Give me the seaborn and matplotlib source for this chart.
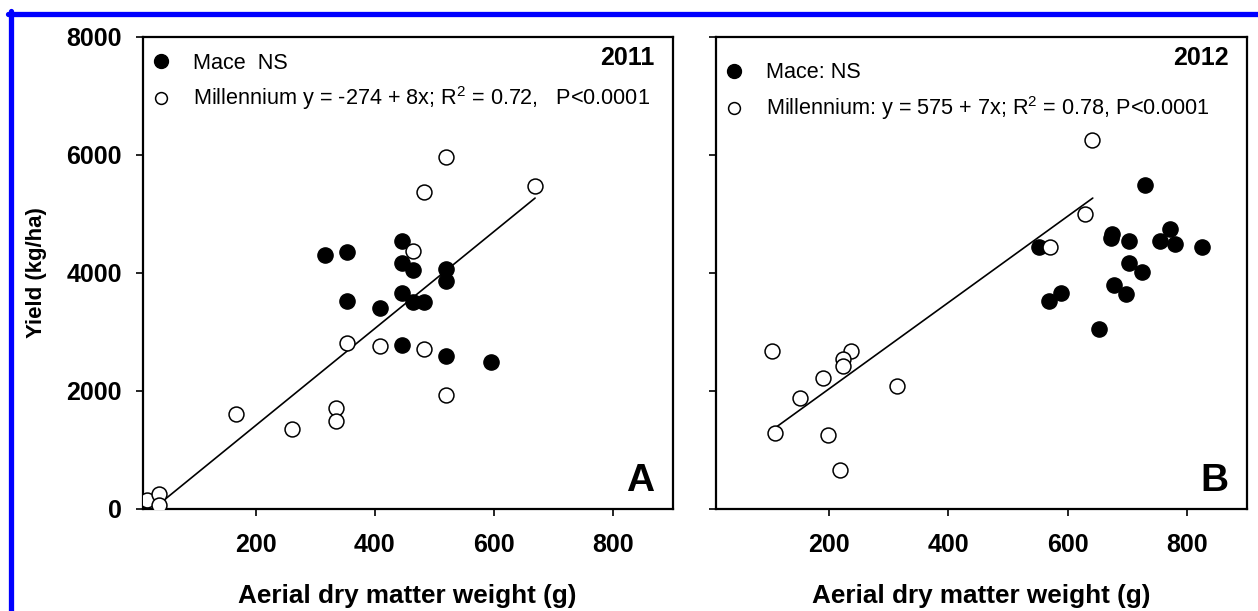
import matplotlib
matplotlib.use("Agg")
import matplotlib.pyplot as plt
import matplotlib.lines as mlines
import seaborn as sns
import pandas as pd

# ------------------------------------------------------------------
# data
# ------------------------------------------------------------------
# 2011
mace_2011_x = [316, 353, 446, 446, 464, 520, 520, 446, 353, 409, 464, 483, 446, 520, 595]
mace_2011_y = [4300, 4360, 4540, 4170, 4050, 4060, 3870, 3660, 3520, 3400, 3510, 3510, 2780, 2590, 2500]
mill_2011_x = [520, 483, 669, 464, 353, 409, 483, 520, 167, 261, 334, 334, 18, 37, 37]
mill_2011_y = [5960, 5380, 5470, 4370, 2820, 2770, 2720, 1940, 1610, 1350, 1720, 1500, 160, 260, 75]
fit_2011_x = [18, 669]
fit_2011_y = [-80, 5270]

# 2012
mace_2012_x = [730, 552, 675, 672, 703, 755, 772, 779, 825, 703, 725, 678, 697, 589, 569, 652]
mace_2012_y = [5500, 4440, 4660, 4600, 4545, 4540, 4740, 4500, 4440, 4165, 4010, 3790, 3645, 3655, 3525, 3050]
mill_2012_x = [641, 629, 571, 105, 237, 224, 223, 190, 151, 314, 109, 199, 219]
mill_2012_y = [6260, 5000, 4440, 2680, 2680, 2550, 2430, 2220, 1880, 2080, 1285, 1255, 660]
fit_2012_x = [113, 642]
fit_2012_y = [1400, 5270]

years = ["2011", "2012"]
panel_letters = ["A", "B"]
legend_labels = [
    ["Mace  NS", "Millennium y = -274 + 8x; R$^{2}$ = 0.72,   P<0.0001"],
    ["Mace: NS", "Millennium: y = 575 + 7x; R$^{2}$ = 0.78, P<0.0001"],
]
x_ticks = [200, 400, 600, 800]
y_ticks = [0, 2000, 4000, 6000, 8000]

# ------------------------------------------------------------------
sns.set_theme(style="ticks")
plt.rcParams["font.family"] = ["Liberation Sans", "DejaVu Sans"]
plt.rcParams["mathtext.default"] = "regular"
plt.rcParams["text.color"] = "black"
plt.rcParams["axes.labelcolor"] = "black"
plt.rcParams["xtick.color"] = "black"
plt.rcParams["ytick.color"] = "black"

fig = plt.figure(figsize=(12.58, 6.11), dpi=100)
W, H = 1258, 611
ax1 = fig.add_axes([142.5 / W, 1 - 509 / H, 530.2 / W, 472 / H])
ax2 = fig.add_axes([715.7 / W, 1 - 509 / H, 531 / W, 472 / H])

panels = [
    (ax1, mace_2011_x, mace_2011_y, mill_2011_x, mill_2011_y, fit_2011_x, fit_2011_y),
    (ax2, mace_2012_x, mace_2012_y, mill_2012_x, mill_2012_y, fit_2012_x, fit_2012_y),
]

for i, (ax, mx, my, ox, oy, fx, fy) in enumerate(panels):
    sns.lineplot(x=fx, y=fy, ax=ax, color="black", linewidth=1.2,
                 sort=False, estimator=None, zorder=1)
    sns.scatterplot(x=mx, y=my, ax=ax, color="black", s=120,
                    edgecolor="black", linewidth=1.0, zorder=3)
    sns.scatterplot(x=ox, y=oy, ax=ax, facecolor="white", s=115,
                    edgecolor="black", linewidth=1.1, zorder=3)

    ax.set_xlim(10, 900)
    ax.set_ylim(0, 8000)
    ax.set_xticks(x_ticks)
    ax.set_yticks(y_ticks)
    for sp in ax.spines.values():
        sp.set_linewidth(1.6)
        sp.set_color("black")
    ax.tick_params(direction="out", length=5, width=1.2, color="black",
                   labelsize=18, labelcolor="black")
    ax.tick_params(axis="x", pad=12)
    ax.tick_params(axis="y", pad=10)
    for lab in ax.get_xticklabels() + ax.get_yticklabels():
        lab.set_fontweight("bold")

    ax.set_xlabel("Aerial dry matter weight (g)", fontsize=18.8,
                  fontweight="bold", labelpad=20)

    handles = [
        mlines.Line2D([], [], color="black", marker="o", linestyle="None",
                      markersize=10, markerfacecolor="black"),
        mlines.Line2D([], [], color="black", marker="o", linestyle="None",
                      markersize=8.5, markerfacecolor="white", markeredgewidth=1.1),
    ]
    top = 0.967 if i == 0 else 0.946
    ax.legend(handles, legend_labels[i], loc="upper left",
              bbox_to_anchor=(0.014, top), frameon=False, fontsize=15.6,
              handlelength=1.0, handletextpad=1.0, labelspacing=0.5,
              borderpad=0, borderaxespad=0)

    ax.text(0.966, 0.955, years[i], transform=ax.transAxes, ha="right",
            va="center", fontsize=18, fontweight="bold")
    ax.text(0.965, 0.06, panel_letters[i], transform=ax.transAxes, ha="right",
            va="center", fontsize=28, fontweight="bold")

ax1.set_ylabel("Yield (kg/ha)", fontsize=16, fontweight="bold", labelpad=14)
ax2.set_ylabel("")
ax2.set_yticklabels([])

# blue frame along top and left edge
fig.add_artist(mlines.Line2D([8 / W, 1], [1 - 13.5 / H, 1 - 13.5 / H],
                             color="#0000ff", linewidth=3.8, transform=fig.transFigure))
fig.add_artist(mlines.Line2D([10.5 / W, 10.5 / W], [0, 1 - 11 / H],
                             color="#0000ff", linewidth=3.8, transform=fig.transFigure))

fig.savefig("out.png", dpi=100)
